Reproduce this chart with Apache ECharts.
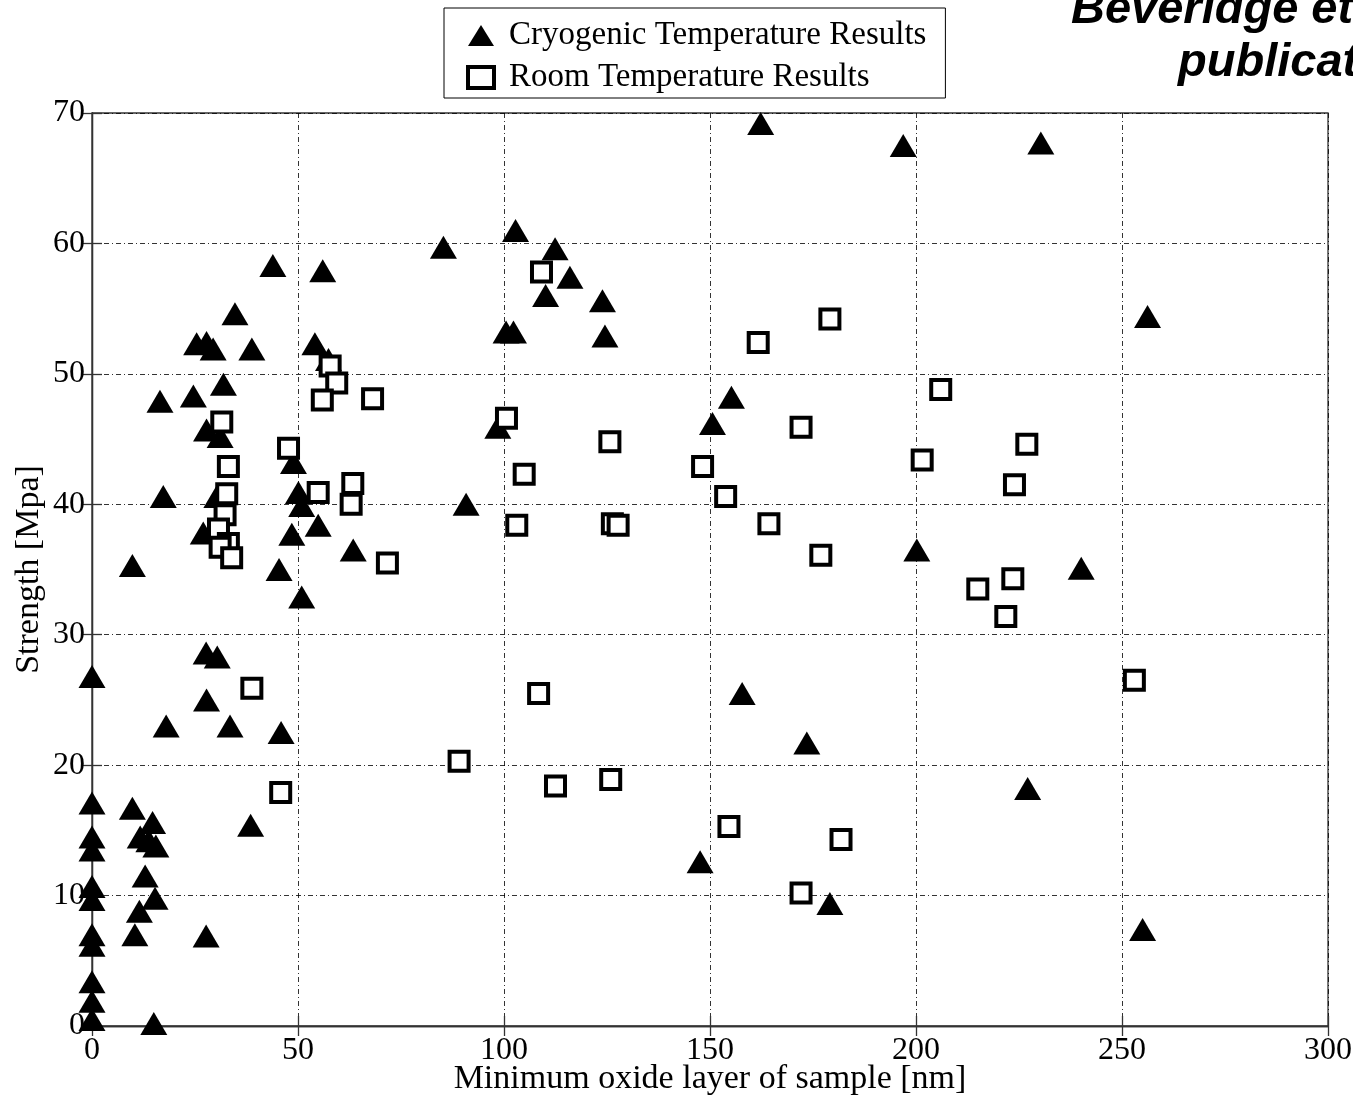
<!DOCTYPE html>
<html>
<head>
<meta charset="utf-8">
<script src="https://cdn.jsdelivr.net/npm/echarts@6/dist/echarts.min.js"></script>
<style>
html,body{margin:0;padding:0;background:#fff;}
#chart{width:1353px;height:1098px;}
</style>
</head>
<body>
<div id="chart"></div>
<script>
// ---- data ----
var seriesNames = ['Cryogenic Temperature Results', 'Room Temperature Results'];

var cryoX = [0, 0, 0, 0, 0, 0, 0, 0, 0, 0, 0,
  15, 9.8, 14.7, 11.7, 15.5, 13.8, 12.9, 15.3, 11.5, 10.4, 27.7, 38.5,
  27.7, 30.4, 27.8, 18, 33.5, 45.9,
  43.9, 56, 34.7, 25.4, 27.8, 29.4, 38.8, 54.1, 57.4, 31.9, 16.5, 24.6, 27.8, 31.1, 48.9,
  17.3, 30.3, 50.1, 50.9, 54.9, 27, 48.5, 63.4, 9.8, 45.4, 50.9,
  85.3, 102.8, 112.4, 116, 110.1, 123.9, 124.5, 100.5, 102.3, 155.2, 150.6, 98.5, 90.8,
  162.3, 157.8, 173.5, 147.6, 179.1,
  196.9, 230.3, 256.2, 200.2, 240.1, 227.1, 255];
var cryoY = [26.8, 17.1, 14.5, 13.5, 10.7, 9.7, 7.0, 6.2, 3.4, 1.9, 0.5,
  0.2, 16.7, 15.6, 14.5, 13.8, 14.2, 11.5, 9.8, 8.8, 7.0, 6.9, 15.4,
  28.6, 28.3, 25.0, 23.0, 23.0, 22.5,
  58.3, 57.9, 54.6, 52.3, 52.4, 51.9, 51.9, 52.3, 51.1, 49.2, 47.9, 48.3, 45.7, 45.2, 43.2,
  40.6, 40.6, 40.9, 39.9, 38.4, 37.8, 37.7, 36.5, 35.3, 35.0, 32.9,
  59.7, 61.0, 59.6, 57.4, 56.0, 55.6, 52.9, 53.2, 53.2, 48.2, 46.2, 45.9, 40.0,
  69.2, 25.5, 21.7, 12.6, 9.4,
  67.5, 67.7, 54.4, 36.5, 35.1, 18.2, 7.4];

var roomX = [31.5, 57.8, 59.4, 55.9, 68.1, 47.7, 33.1, 54.9, 63.3, 62.9, 32.7, 32.3, 30.7, 33.1, 31.1, 33.9, 71.7, 38.8, 45.8,
  109.1, 161.7, 179.1, 100.6, 125.7, 148.2, 172.1, 153.8, 104.9, 103.1, 126.3, 127.7, 164.3, 176.9,
  108.4, 89.1, 112.5, 125.9, 154.6, 181.8, 172.1,
  206, 201.5, 226.9, 223.9, 215, 223.5, 221.8, 253];
var roomY = [46.3, 50.6, 49.3, 48.0, 48.1, 44.3, 42.9, 40.9, 41.6, 40.0, 40.8, 39.2, 38.1, 37.0, 36.7, 35.9, 35.5, 25.9, 17.9,
  57.8, 52.4, 54.2, 46.6, 44.8, 42.9, 45.9, 40.6, 42.3, 38.4, 38.5, 38.4, 38.5, 36.1,
  25.5, 20.3, 18.4, 18.9, 15.3, 14.3, 10.2,
  48.8, 43.4, 44.6, 41.5, 33.5, 34.3, 31.4, 26.5];

var xTicks = [0, 50, 100, 150, 200, 250, 300];
var yTicks = [0, 10, 20, 30, 40, 50, 60, 70];
var xTitle = 'Minimum oxide layer of sample [nm]';
var yTitle = 'Strength [Mpa]';
var noteLine1 = 'Beveridge et al.';
var noteLine2 = 'publication';

function zip(xs, ys) { return xs.map(function (x, i) { return [x, ys[i]]; }); }

var serif = "'Liberation Serif', 'Times New Roman', serif";
var noteFont = "italic bold 47px 'Liberation Sans', Arial, sans-serif";
var gridDash = { color: '#000', width: 1, type: [5, 3, 1, 3], opacity: 0.8 };
var axisLine = { show: true, lineStyle: { color: '#333', width: 1.3 } };
var tick = { show: true, inside: true, length: 10, lineStyle: { color: '#333', width: 1.3 } };

var chart = echarts.init(document.getElementById('chart'), null, { renderer: 'canvas' });
chart.setOption({
  backgroundColor: '#fff',
  animation: false,
  grid: { left: 92, right: 25, top: 113, bottom: 72, show: true, borderColor: '#333', borderWidth: 1.3, containLabel: false, outerBoundsMode: 'none' },
  legend: {
    left: 444, top: 8, orient: 'vertical',
    padding: [11, 19, 4, 22],
    borderColor: '#000', borderWidth: 1,
    itemWidth: 26, itemHeight: 21, itemGap: 9,
    textStyle: { fontFamily: serif, fontSize: 33, color: '#000', padding: [0, 0, 0, 10] },
    data: [
      { name: seriesNames[0], icon: 'triangle' },
      { name: seriesNames[1], icon: 'rect', itemStyle: { color: '#fff', borderColor: '#000', borderWidth: 4 } }
    ]
  },
  xAxis: [{
    type: 'value', min: xTicks[0], max: xTicks[xTicks.length - 1], interval: 50, position: 'bottom',
    axisLine: axisLine, axisTick: tick,
    axisLabel: { fontFamily: serif, fontSize: 32, color: '#000', margin: 9, showMinLabel: true, showMaxLabel: true },
    splitLine: { show: true, lineStyle: gridDash },
    name: xTitle, nameLocation: 'middle', nameGap: 36, nameMoveOverlap: false,
    nameTextStyle: { fontFamily: serif, fontSize: 34, color: '#000' }
  }, {
    type: 'value', min: xTicks[0], max: xTicks[xTicks.length - 1], interval: 50, position: 'top',
    axisLine: axisLine, axisTick: tick, axisLabel: { show: false }, splitLine: { show: false }
  }],
  yAxis: [{
    type: 'value', min: yTicks[0], max: yTicks[yTicks.length - 1], interval: 10, position: 'left',
    axisLine: axisLine, axisTick: tick,
    axisLabel: { fontFamily: serif, fontSize: 32, color: '#000', margin: 7, lineHeight: 32, padding: [7, 0, 0, 0], showMinLabel: true, showMaxLabel: true },
    splitLine: { show: true, lineStyle: gridDash },
    name: yTitle, nameLocation: 'middle', nameGap: 46, nameRotate: 90, nameMoveOverlap: false,
    nameTextStyle: { fontFamily: serif, fontSize: 34, color: '#000' }
  }, {
    type: 'value', min: yTicks[0], max: yTicks[yTicks.length - 1], interval: 10, position: 'right',
    axisLine: axisLine, axisTick: tick, axisLabel: { show: false }, splitLine: { show: false }
  }],
  series: [{
    name: seriesNames[0], type: 'scatter', xAxisIndex: 0, yAxisIndex: 0,
    symbol: 'triangle', symbolSize: [27, 23],
    itemStyle: { color: '#000', opacity: 1 },
    data: zip(cryoX, cryoY), z: 3, clip: false
  }, {
    name: seriesNames[1], type: 'scatter', xAxisIndex: 0, yAxisIndex: 0,
    symbol: 'rect', symbolSize: 19,
    itemStyle: { color: '#fff', borderColor: '#000', borderWidth: 4, opacity: 1 },
    data: zip(roomX, roomY), z: 4, clip: false
  }],
  graphic: [
    { type: 'text', left: 1071, top: -13, style: { text: noteLine1, font: noteFont, fill: '#000' } },
    { type: 'text', left: 1178, top: 40, style: { text: noteLine2, font: noteFont, fill: '#000' } }
  ]
});
</script>
</body>
</html>
